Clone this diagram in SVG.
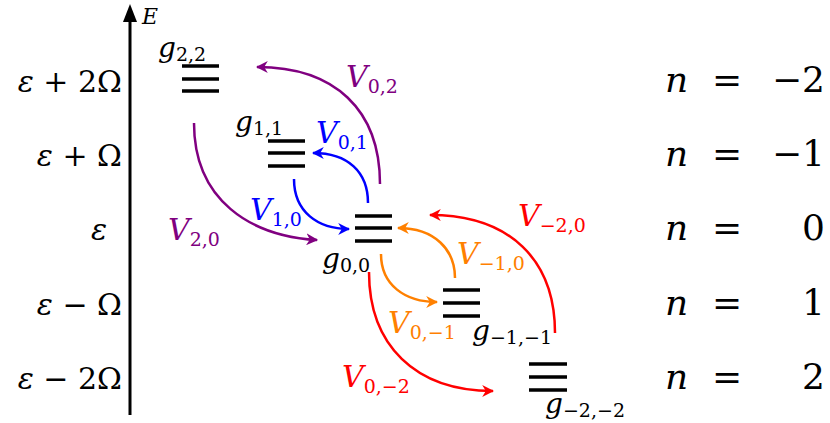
<svg xmlns="http://www.w3.org/2000/svg" width="830" height="423" viewBox="0 0 830 423">
<defs>
<marker id="ab" viewBox="0 0 10 10" refX="9" refY="5" markerWidth="12" markerHeight="12" orient="auto" markerUnits="userSpaceOnUse"><path d="M0,0 L10,5 L0,10 L3,5 Z" fill="#0000ff"/></marker>
<marker id="ao" viewBox="0 0 10 10" refX="9" refY="5" markerWidth="12" markerHeight="12" orient="auto" markerUnits="userSpaceOnUse"><path d="M0,0 L10,5 L0,10 L3,5 Z" fill="#ff8000"/></marker>
<marker id="ar" viewBox="0 0 10 10" refX="9" refY="5" markerWidth="12" markerHeight="12" orient="auto" markerUnits="userSpaceOnUse"><path d="M0,0 L10,5 L0,10 L3,5 Z" fill="#ff0000"/></marker>
<marker id="apu" viewBox="0 0 10 10" refX="9" refY="5" markerWidth="12" markerHeight="12" orient="auto" markerUnits="userSpaceOnUse"><path d="M0,0 L10,5 L0,10 L3,5 Z" fill="#800080"/></marker>
</defs>
<style>
text{font-family:"DejaVu Serif","Liberation Serif",serif}
.lv{stroke:#000;stroke-width:3.5}
.t{font-style:italic;font-size:28px}
.s{font-size:19px;font-style:normal}
.m{font-size:30px}
.n{font-size:36px}
.c{fill:none;stroke-width:2.5}
</style>
<g id="axis">
<line x1="130" y1="415" x2="130" y2="18" stroke="#000" stroke-width="3"/>
<path d="M130,4 L137,22 L123,22 Z" fill="#000"/>
<text x="142" y="24" class="t" style="font-size:22px">E</text>
</g>
<g id="ylabels" class="m" text-anchor="end">
<text x="122" y="92"><tspan font-style="italic">ε</tspan> + 2Ω</text>
<text x="122" y="166"><tspan font-style="italic">ε</tspan> + Ω</text>
<text x="107" y="240" font-style="italic">ε</text>
<text x="122" y="315"><tspan font-style="italic">ε</tspan> − Ω</text>
<text x="122" y="389"><tspan font-style="italic">ε</tspan> − 2Ω</text>
</g>
<g id="nlabels" class="n">
<text x="665" y="92" font-style="italic">n</text><text x="712" y="92">=</text><text x="825" y="92" text-anchor="end">−2</text>
<text x="665" y="166" font-style="italic">n</text><text x="712" y="166">=</text><text x="825" y="166" text-anchor="end">−1</text>
<text x="665" y="240" font-style="italic">n</text><text x="712" y="240">=</text><text x="825" y="240" text-anchor="end">0</text>
<text x="665" y="315" font-style="italic">n</text><text x="712" y="315">=</text><text x="825" y="315" text-anchor="end">1</text>
<text x="665" y="389" font-style="italic">n</text><text x="712" y="389">=</text><text x="825" y="389" text-anchor="end">2</text>
</g>
<g id="g22"><path class="lv" d="M182,66h37M182,79h37M182,91h37"/><text x="158" y="57" class="t">g<tspan class="s" dy="4">2,2</tspan></text></g>
<g id="g11"><path class="lv" d="M268,141h37M268,153h37M268,166h37"/><text x="235" y="131" class="t">g<tspan class="s" dy="4">1,1</tspan></text></g>
<g id="g00"><path class="lv" d="M355,216h37M355,228h37M355,241h37"/><text x="322" y="268" class="t">g<tspan class="s" dy="4">0,0</tspan></text></g>
<g id="gm1"><path class="lv" d="M443,290h37M443,303h37M443,316h37"/><text x="472" y="340" class="t">g<tspan class="s" dy="4">−1,−1</tspan></text></g>
<g id="gm2"><path class="lv" d="M529,364h38M529,377h38M529,390h38"/><text x="545" y="413" class="t">g<tspan class="s" dy="4">−2,−2</tspan></text></g>
<g id="connectors">
<path class="c" stroke="#800080" d="M194,123 C194,200 250,236 317,240" marker-end="url(#apu)"/>
<path class="c" stroke="#800080" d="M380,184 C380,110 335,67 257,67" marker-end="url(#apu)"/>
<path class="c" stroke="#0000ff" d="M368,203 C368,172 348,153 313,153" marker-end="url(#ab)"/>
<path class="c" stroke="#0000ff" d="M294,179 C294,212 318,229 349,229" marker-end="url(#ab)"/>
<path class="c" stroke="#ff8000" d="M455,278 C455,250 435,228 398,228" marker-end="url(#ao)"/>
<path class="c" stroke="#ff8000" d="M381,254 C381,285 405,302 437,302" marker-end="url(#ao)"/>
<path class="c" stroke="#ff0000" d="M555,333 C555,260 510,215 430,215" marker-end="url(#ar)"/>
<path class="c" stroke="#ff0000" d="M369,272 C369,345 415,391 493,391" marker-end="url(#ar)"/>
</g>
<g id="vlabels" class="t" style="font-size:30px">
<text x="346" y="87" fill="#800080">V<tspan class="s" dy="6">0,2</tspan></text>
<text x="316" y="143" fill="#0000ff">V<tspan class="s" dy="6">0,1</tspan></text>
<text x="250" y="220" fill="#0000ff">V<tspan class="s" dy="6">1,0</tspan></text>
<text x="168" y="240" fill="#800080">V<tspan class="s" dy="6">2,0</tspan></text>
<text x="457" y="264" fill="#ff8000">V<tspan class="s" dy="6">−1,0</tspan></text>
<text x="518" y="226" fill="#ff0000">V<tspan class="s" dy="6">−2,0</tspan></text>
<text x="388" y="333" fill="#ff8000">V<tspan class="s" dy="6">0,−1</tspan></text>
<text x="342" y="387" fill="#ff0000">V<tspan class="s" dy="6">0,−2</tspan></text>
</g>
</svg>
